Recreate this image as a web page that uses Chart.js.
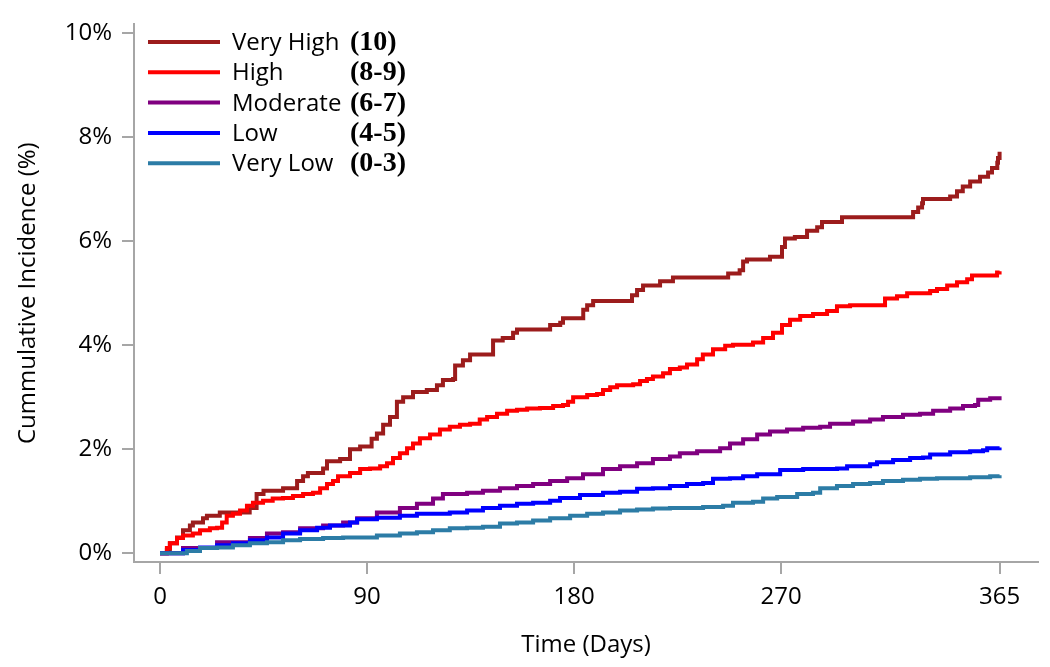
<!DOCTYPE html>
<html>
<head>
<meta charset="utf-8">
<script src="https://cdn.jsdelivr.net/npm/chart.js@4/dist/chart.umd.min.js"></script>
<style>
  body { margin: 0; background: #fff; }
</style>
</head>
<body>
<canvas id="myChart" width="1050" height="667"></canvas>
<script>
// values (days, cumulative incidence %)
const groupNames = ["Very High", "High", "Moderate", "Low", "Very Low"];
const scoreRanges = ["(10)", "(8-9)", "(6-7)", "(4-5)", "(0-3)"];
const groupColors = ["#9c1c1c", "#ff0000", "#800080", "#0000ff", "#2c7ca6"];

const xTicks = [0, 90, 180, 270, 365];
const yTicks = [0, 2, 4, 6, 8, 10];

const veryHighDays = [0, 3, 4.3, 7.4, 10, 13, 14.3, 18.7, 20.4, 26, 39, 42, 45, 53.5, 59.6, 62.2, 64.3, 70.9, 72.6, 78.3, 82.6, 87, 92, 94.3, 97, 100, 103, 105.7, 110, 116, 120.4, 123, 127.4, 128.3, 131.7, 134.8, 144.8, 149, 153.5, 155.2, 169.6, 174, 175.2, 184, 185.7, 188.3, 205.2, 207.4, 210, 217.4, 223, 247, 252, 253.5, 255.2, 265.2, 270.4, 271.7, 276, 281.3, 285.7, 287.8, 296.5, 327.4, 329.6, 331.3, 331.7, 343.5, 346.5, 349, 352.2, 356.5, 360, 361.7, 364, 364.3, 365];
const veryHighPct = [0, 0.06, 0.19, 0.30, 0.44, 0.53, 0.59, 0.67, 0.72, 0.78, 0.87, 1.14, 1.20, 1.25, 1.39, 1.48, 1.54, 1.63, 1.77, 1.81, 2.00, 2.05, 2.20, 2.30, 2.47, 2.62, 2.91, 3.00, 3.10, 3.14, 3.23, 3.33, 3.35, 3.61, 3.71, 3.82, 4.09, 4.14, 4.24, 4.30, 4.39, 4.43, 4.52, 4.68, 4.77, 4.85, 4.96, 5.06, 5.15, 5.23, 5.30, 5.38, 5.44, 5.61, 5.65, 5.70, 5.89, 6.05, 6.08, 6.20, 6.27, 6.37, 6.46, 6.56, 6.65, 6.73, 6.81, 6.86, 6.96, 7.05, 7.15, 7.24, 7.32, 7.41, 7.51, 7.60, 7.72];

const highDays = [0, 3, 4.3, 7.4, 10, 14.3, 17.4, 21.7, 24.8, 27, 29, 31.7, 34.8, 37.8, 40.4, 44.8, 49, 53.5, 57.8, 62.2, 66.5, 69.6, 72.6, 75.2, 77.4, 82.6, 87, 91.3, 95.7, 98.7, 101.3, 104.3, 107.4, 110, 113, 117.4, 121.7, 126, 130.4, 134.8, 139, 142.2, 146.5, 150.9, 155.2, 159.6, 165.2, 170.9, 175.2, 177.4, 179.6, 185.7, 190, 192.6, 195.7, 198.7, 205.7, 208.7, 211.7, 214.3, 218.7, 221.7, 226, 229.1, 233.5, 236, 240.4, 245.7, 249.1, 257.8, 262.2, 266.5, 270.4, 273.9, 278.3, 283.9, 290, 294.3, 300, 315.2, 320.4, 324.8, 334.8, 337.8, 342.2, 346.5, 350.9, 353, 363.9, 365];
const highPct = [0, 0.10, 0.19, 0.29, 0.34, 0.38, 0.44, 0.48, 0.49, 0.59, 0.72, 0.76, 0.82, 0.91, 0.97, 1.01, 1.05, 1.06, 1.10, 1.14, 1.16, 1.25, 1.33, 1.39, 1.48, 1.54, 1.62, 1.63, 1.67, 1.73, 1.83, 1.92, 2.02, 2.11, 2.21, 2.28, 2.38, 2.43, 2.47, 2.49, 2.57, 2.62, 2.68, 2.74, 2.76, 2.78, 2.79, 2.83, 2.85, 2.91, 3.00, 3.04, 3.06, 3.14, 3.19, 3.23, 3.25, 3.31, 3.35, 3.40, 3.46, 3.54, 3.57, 3.63, 3.73, 3.82, 3.92, 3.99, 4.01, 4.05, 4.14, 4.24, 4.39, 4.49, 4.56, 4.60, 4.66, 4.75, 4.77, 4.90, 4.94, 5.00, 5.04, 5.08, 5.15, 5.21, 5.27, 5.34, 5.40, 5.42];

const moderateDays = [0, 10, 24.8, 39.1, 46.5, 53.5, 60.9, 70.9, 79.6, 85.7, 94.3, 104.3, 111.7, 118.7, 123, 133.5, 140.4, 147.8, 155.2, 162.2, 169.6, 177, 183.9, 192.6, 200, 207.4, 214.3, 221.7, 226, 233.5, 243.5, 247.8, 253.5, 259.6, 265.2, 272.6, 279.6, 287, 291.3, 301.3, 308.7, 314.3, 323, 330.4, 336.1, 343.5, 349.1, 354.3, 355.7, 360.9, 365];
const moderatePct = [0, 0.10, 0.21, 0.29, 0.38, 0.40, 0.48, 0.53, 0.59, 0.67, 0.78, 0.87, 0.95, 1.05, 1.14, 1.16, 1.20, 1.25, 1.29, 1.33, 1.39, 1.44, 1.52, 1.62, 1.67, 1.73, 1.81, 1.86, 1.92, 1.96, 2.02, 2.11, 2.19, 2.28, 2.34, 2.38, 2.41, 2.43, 2.49, 2.53, 2.57, 2.62, 2.66, 2.68, 2.74, 2.78, 2.83, 2.85, 2.95, 2.98, 3.02];

const lowDays = [0, 10, 17.4, 24.8, 31.7, 39.1, 46.5, 53.5, 60.9, 68.3, 73.9, 82.6, 85.7, 94.3, 104.3, 111.7, 126, 133.5, 140.4, 147.8, 155.2, 162.2, 169.6, 173.9, 182.6, 192.6, 200, 207.4, 214.3, 221.7, 229.1, 236.1, 240.4, 247.8, 253.5, 259.6, 269.6, 279.6, 294.3, 298.7, 308.7, 311.7, 318.7, 326.1, 331.7, 334.8, 343.5, 352.2, 357.8, 359.6, 365];
const lowPct = [0, 0.06, 0.11, 0.15, 0.19, 0.25, 0.30, 0.38, 0.44, 0.49, 0.53, 0.59, 0.65, 0.68, 0.72, 0.76, 0.78, 0.82, 0.87, 0.91, 0.95, 0.97, 1.01, 1.06, 1.12, 1.16, 1.18, 1.24, 1.25, 1.29, 1.33, 1.35, 1.43, 1.44, 1.48, 1.52, 1.60, 1.62, 1.63, 1.67, 1.71, 1.75, 1.79, 1.83, 1.84, 1.90, 1.94, 1.96, 1.98, 2.02, 2.03];

const veryLowDays = [0, 11.7, 17.4, 24.8, 31.7, 39.1, 46.5, 53.5, 60.9, 70.9, 79.6, 94.3, 104.3, 111.7, 118.7, 126, 133.5, 140.4, 147.8, 155.2, 162.2, 169.6, 178.3, 185.7, 192.6, 200, 207.4, 214.3, 221.7, 236.1, 244.8, 249.1, 257.8, 262.2, 268.3, 277, 283.9, 287, 294.3, 301.3, 308.7, 314.3, 323, 330.4, 337.8, 352.2, 360.9, 365];
const veryLowPct = [0, 0.04, 0.10, 0.11, 0.15, 0.19, 0.21, 0.25, 0.27, 0.29, 0.30, 0.34, 0.38, 0.40, 0.44, 0.48, 0.49, 0.51, 0.57, 0.59, 0.63, 0.67, 0.72, 0.76, 0.78, 0.82, 0.84, 0.86, 0.87, 0.89, 0.91, 0.97, 0.99, 1.05, 1.08, 1.14, 1.16, 1.25, 1.29, 1.33, 1.35, 1.39, 1.41, 1.43, 1.44, 1.46, 1.48, 1.50];

const seriesDays = [veryHighDays, highDays, moderateDays, lowDays, veryLowDays];
const seriesPct = [veryHighPct, highPct, moderatePct, lowPct, veryLowPct];

const gray = "#a6a6a6";

// legend drawn by hand: line + name + bold serif score range
const scoreLegend = {
  id: "scoreLegend",
  afterDraw(chart) {
    const c = chart.ctx;
    c.save();
    chart.data.datasets.forEach((ds, i) => {
      const y = 42 + i * 30.3;
      c.strokeStyle = ds.borderColor;
      c.lineWidth = 4;
      c.beginPath();
      c.moveTo(148, y);
      c.lineTo(220, y);
      c.stroke();
      c.fillStyle = "#000";
      c.textBaseline = "alphabetic";
      c.font = '24px "Open Sans"';
      c.fillText(ds.label, 232, y + 8);
      c.font = 'bold 28px "Liberation Serif"';
      c.fillText(scoreRanges[i], 350, y + 8);
    });
    c.restore();
  }
};

Chart.defaults.font.family = '"Open Sans"';
Chart.defaults.font.size = 24;
Chart.defaults.color = "#000";

const ctx = document.getElementById("myChart");

new Chart(ctx, {
  type: "line",
  data: {
    datasets: groupNames.map((name, i) => ({
      label: name,
      data: seriesDays[i].map((d, j) => ({ x: d, y: seriesPct[i][j] })),
      borderColor: groupColors[i],
      backgroundColor: groupColors[i],
      borderWidth: 4,
      stepped: true,
      pointRadius: 0,
      fill: false,
      order: groupNames.length - i,
    })),
  },
  options: {
    responsive: false,
    devicePixelRatio: 1,
    animation: false,
    layout: { padding: { top: 18, right: 12, left: 0, bottom: 0 } },
    plugins: {
      legend: { display: false },
      tooltip: { enabled: false },
    },
    scales: {
      x: {
        type: "linear",
        min: -11.3,
        max: 381.7,
        afterBuildTicks: (s) => { s.ticks = xTicks.map((v) => ({ value: v })); },
        afterFit: (s) => { s.height = 105; },
        ticks: { autoSkip: false, maxRotation: 0, padding: 9 },
        grid: { drawOnChartArea: false, drawTicks: true, tickLength: 12, color: gray, lineWidth: 2 },
        border: { display: true, color: gray, width: 2 },
        title: { display: true, text: "Time (Days)", padding: { top: 0, bottom: 7 } },
      },
      y: {
        min: -0.17,
        max: 10.17,
        afterBuildTicks: (s) => { s.ticks = yTicks.map((v) => ({ value: v })); },
        afterFit: (s) => { s.width = 134; },
        ticks: { padding: 10, callback: (v) => v + "%" },
        grid: { drawOnChartArea: false, drawTicks: true, tickLength: 12, color: gray, lineWidth: 2 },
        border: { display: true, color: gray, width: 2 },
        title: { display: true, text: "Cummulative Incidence (%)", padding: { top: 14, bottom: 0 } },
      },
    },
  },
  plugins: [scoreLegend],
});
</script>
</body>
</html>
